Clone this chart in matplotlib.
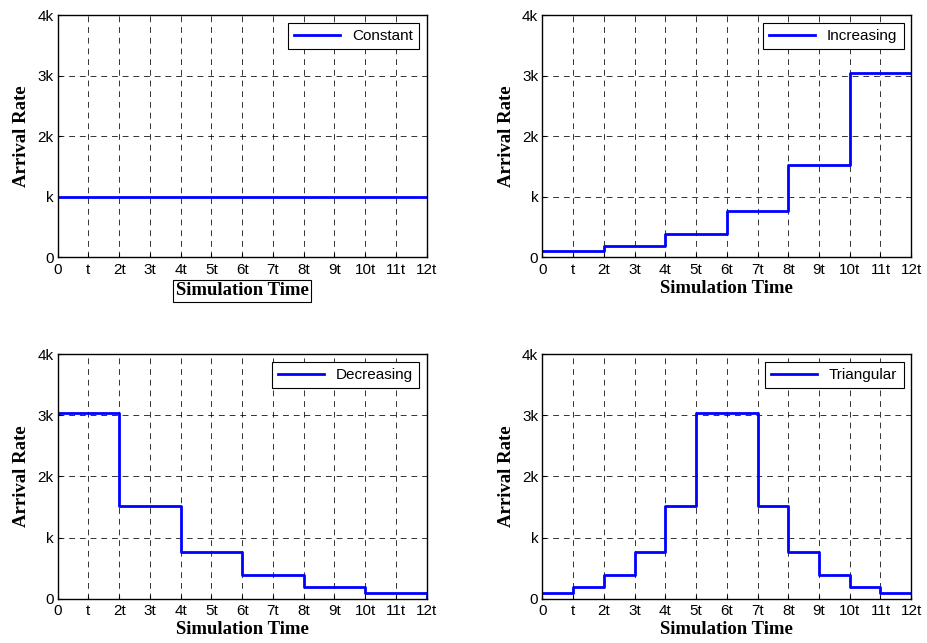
import matplotlib
matplotlib.use("Agg")
import matplotlib.pyplot as plt
import numpy as np

# time edges in units of t, rates in units of k
edges_t = list(range(0, 13))
constant = [1.0] * 12
increasing = [0.095, 0.095, 0.19, 0.19, 0.38, 0.38, 0.76, 0.76, 1.52, 1.52, 3.04, 3.04]
decreasing = [3.04, 3.04, 1.52, 1.52, 0.76, 0.76, 0.38, 0.38, 0.19, 0.19, 0.095, 0.095]
triangular = [0.095, 0.19, 0.38, 0.76, 1.52, 3.04, 3.04, 1.52, 0.76, 0.38, 0.19, 0.095]

x_labels = ['0', 't'] + [f'{i}t' for i in range(2, 13)]
y_ticks = [0, 1, 2, 3, 4]
y_labels = ['0', 'k', '2k', '3k', '4k']

panels = [
    ('Constant', constant, [0.0622, 0.600, 0.398, 0.376], True, False),
    ('Increasing', increasing, [0.585, 0.600, 0.398, 0.376], False, False),
    ('Decreasing', decreasing, [0.0622, 0.069, 0.398, 0.380], False, True),
    ('Triangular', triangular, [0.585, 0.069, 0.398, 0.380], False, False),
]

fig = plt.figure(figsize=(9.27, 6.43), dpi=100)

for name, vals, pos, boxed, drop_end in panels:
    ax = fig.add_axes(pos)
    xs = list(edges_t)
    ys = list(vals) + [vals[-1]]
    ax.step(xs, ys, where='post', color='#0000ff', linewidth=2, label=name)
    if drop_end:
        ax.plot([12, 12], [vals[-1], 0], color='#0000ff', linewidth=2)
    ax.set_xlim(0, 12)
    ax.set_ylim(0, 4)
    ax.set_xticks(edges_t)
    ax.set_xticklabels(x_labels, fontfamily='Liberation Sans', fontsize=11)
    ax.set_yticks(y_ticks)
    ax.set_yticklabels(y_labels, fontfamily='Liberation Sans', fontsize=11)
    ax.tick_params(direction='in', length=3, width=0.8)
    ax.tick_params(axis='x', pad=4)
    ax.tick_params(axis='y', pad=3)
    ax.grid(True, linestyle=(0, (6, 5)), color='black', linewidth=0.7, alpha=0.8)
    for s in ax.spines.values():
        s.set_linewidth(1.0)
    lab_kw = dict(fontfamily='Liberation Serif', fontweight='bold', fontsize=13.5)
    if boxed:
        ax.set_xlabel('Simulation Time', labelpad=4,
                      bbox=dict(boxstyle='square,pad=0.12', facecolor='white',
                                edgecolor='black', linewidth=0.8), **lab_kw)
    else:
        ax.set_xlabel('Simulation Time', labelpad=2, **lab_kw)
    ax.set_ylabel('Arrival Rate', labelpad=5, **lab_kw)
    leg = ax.legend(loc='upper right', fancybox=False, framealpha=1,
                    edgecolor='black', prop={'family': 'Liberation Sans', 'size': 11},
                    handlelength=3.0, borderaxespad=0.5)
    leg.get_frame().set_linewidth(0.8)

fig.savefig('out.png', dpi=100)
